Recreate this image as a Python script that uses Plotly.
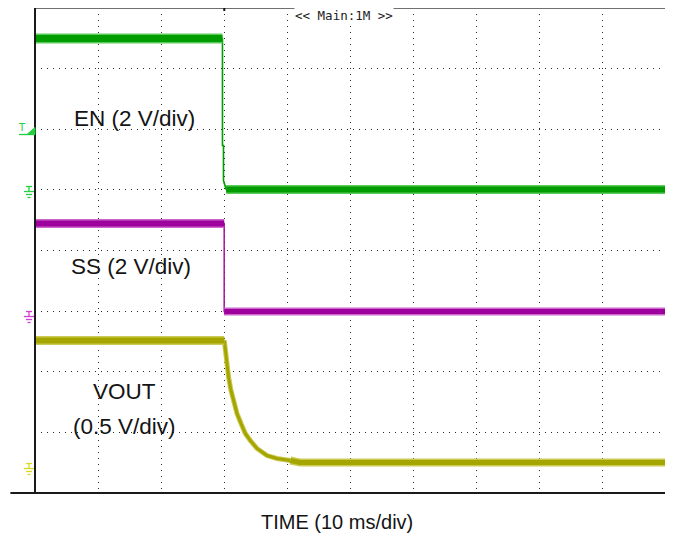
import plotly.graph_objects as go

# ---------------- data (time in ms, trigger at 0; volts per channel) ----------------
en_t = [-30, -0.29, -0.29, -0.13, -0.13, 0.3, 70]
en_v = [5.05, 5.05, 1.52, 1.52, 0.36, 0.066, 0.066]

ss_t = [-30, -0.02, -0.02, 70]
ss_v = [3.07, 3.07, 0.165, 0.165]

vout_t = [-30, 0.0, 0.16, 0.43, 0.68, 1.06, 1.47, 2.01, 2.65, 3.33, 4.12,
          5.18, 6.77, 8.35, 10.46, 12.0, 70]
vout_v = [1.056, 1.056, 0.974, 0.866, 0.753, 0.644, 0.561, 0.454, 0.371, 0.289,
          0.231, 0.165, 0.107, 0.083, 0.066, 0.049, 0.049]

en_trigger_level = 1.88

channel_labels = ["EN (2 V/div)", "SS (2 V/div)", "VOUT", "(0.5 V/div)"]
x_title = "TIME (10 ms/div)"
header_text = "<< Main:1M >>"

# ---------------- styles ----------------
EN_CORE, EN_HALO, EN_MARK = "#009C00", "#5BCB5B", "#22D040"
SS_CORE, SS_HALO, SS_MARK = "#9E009E", "#CB66CB", "#D63CD6"
VO_CORE, VO_HALO, VO_MARK = "#A5A500", "#CACA55", "#D8D820"

fig = go.Figure()


def add_line(t, v, yaxis, core, halo, w_core, w_halo):
    fig.add_trace(go.Scatter(x=t, y=v, yaxis=yaxis, mode="lines",
                             line=dict(color=halo, width=w_halo), hoverinfo="skip",
                             showlegend=False))
    fig.add_trace(go.Scatter(x=t, y=v, yaxis=yaxis, mode="lines",
                             line=dict(color=core, width=w_core), hoverinfo="skip",
                             showlegend=False))


# EN (channel 1)
fig.add_trace(go.Scatter(x=en_t, y=en_v, yaxis="y2", mode="lines",
                         line=dict(color=EN_CORE, width=1.6), showlegend=False,
                         hoverinfo="skip"))
add_line(en_t[:2], en_v[:2], "y2", EN_CORE, EN_HALO, 7, 10)
add_line(en_t[-2:], en_v[-2:], "y2", EN_CORE, EN_HALO, 6, 9)

# SS (channel 2)
fig.add_trace(go.Scatter(x=ss_t, y=ss_v, yaxis="y3", mode="lines",
                         line=dict(color=SS_CORE, width=1.4), showlegend=False,
                         hoverinfo="skip"))
add_line(ss_t[:2], ss_v[:2], "y3", SS_CORE, SS_HALO, 6, 9)
add_line(ss_t[-2:], ss_v[-2:], "y3", SS_CORE, SS_HALO, 5, 8)

# VOUT (channel 3)
add_line(vout_t[1:-2], vout_v[1:-2], "y4", VO_CORE, VO_HALO, 3, 5)
add_line(vout_t[:2], vout_v[:2], "y4", VO_CORE, VO_HALO, 6, 9)
add_line(vout_t[-3:], vout_v[-3:], "y4", VO_CORE, VO_HALO, 5, 8)

# ---------------- axes ----------------
grid = dict(showgrid=True, gridcolor="#2a2a2a", gridwidth=1, griddash="1px,5px",
            zeroline=False, showticklabels=False, ticks="", showline=False)

# the page body adds an 8 px offset, so the figure is 8 px smaller
fig.update_layout(
    width=665, height=530,
    margin=dict(l=26.7, r=7, t=0, b=45),
    paper_bgcolor="white", plot_bgcolor="white",
    xaxis=dict(range=[-30, 70], tick0=-30, dtick=10, **grid),
    yaxis=dict(range=[0, 8], tick0=0, dtick=1, **grid),
    yaxis2=dict(range=[-9.946, 6.054], overlaying="y", visible=False),
    yaxis3=dict(range=[-5.822, 10.178], overlaying="y", visible=False),
    yaxis4=dict(range=[-0.202, 3.798], overlaying="y", visible=False),
    showlegend=False,
)

# ---------------- frame ----------------
shapes = [
    dict(type="line", xref="paper", yref="paper", x0=0, x1=1, y0=1, y1=1,
         line=dict(color="#707070", width=2)),
    dict(type="line", xref="paper", yref="paper", x0=0, x1=0, y0=0, y1=1,
         line=dict(color="#1a1a1a", width=2)),
    dict(type="line", xref="paper", yref="paper", x0=1, x1=1, y0=0, y1=1,
         line=dict(color="#1a1a1a", width=2)),
    dict(type="line", xref="paper", yref="paper", x0=-0.039, x1=1, y0=0, y1=0,
         line=dict(color="#1a1a1a", width=2)),
    # trigger position tick at top
    dict(type="rect", xref="x", xsizemode="pixel", xanchor=0, x0=-1, x1=1,
         yref="paper", ysizemode="pixel", yanchor=1, y0=-3, y1=0,
         fillcolor="#111", line=dict(width=0)),
]


def ground(yref, color):
    segs = [(-9, -3, 5, 5), (-6, -6, 0, 5), (-11, -1, 0, 0),
            (-9, -3, -3, -3), (-7.5, -4.5, -6, -6)]
    for x0, x1, y0, y1 in segs:
        shapes.append(dict(type="line", xref="paper", xsizemode="pixel", xanchor=0,
                           x0=x0, x1=x1, yref=yref, ysizemode="pixel", yanchor=0,
                           y0=y0, y1=y1, line=dict(color=color, width=1.3)))


ground("y2", EN_MARK)
ground("y3", SS_MARK)
ground("y4", VO_MARK)

# trigger level marker for EN
shapes.append(dict(type="line", xref="paper", xsizemode="pixel", xanchor=0,
                   x0=-16, x1=0, yref="y2", ysizemode="pixel",
                   yanchor=en_trigger_level, y0=0, y1=0,
                   line=dict(color=EN_MARK, width=1.3)))
shapes.append(dict(type="path", xref="paper", xsizemode="pixel", xanchor=0,
                   yref="y2", ysizemode="pixel", yanchor=en_trigger_level,
                   path="M-8,0 L0,7 L0,0 Z", fillcolor=EN_MARK,
                   line=dict(color=EN_MARK, width=1)))

fig.update_layout(shapes=shapes)

# ---------------- text ----------------
lab_font = dict(family="Liberation Sans, Arial, sans-serif", size=22.5, color="#141414")
ann = [
    dict(x=-14.3, y=6.18, text=channel_labels[0]),
    dict(x=-14.8, y=3.74, text=channel_labels[1]),
    dict(x=-15.8, y=1.67, text=channel_labels[2]),
    dict(x=-15.8, y=1.10, text=channel_labels[3]),
]
annotations = [dict(xref="x", yref="y", showarrow=False, font=lab_font,
                    xanchor="center", yanchor="middle", **a) for a in ann]
annotations.append(dict(xref="x", yref="paper", x=17.9, y=-0.059, text=x_title,
                        showarrow=False, xanchor="center", yanchor="middle",
                        font=dict(family="Liberation Sans, Arial, sans-serif",
                                  size=20, color="#141414")))
annotations.append(dict(xref="x", yref="y", x=19.0, y=7.87, text=header_text,
                        showarrow=False, xanchor="center", yanchor="middle",
                        bgcolor="white", borderpad=0,
                        font=dict(family="DejaVu Sans Mono, monospace", size=12.5,
                                  color="#222")))
annotations.append(dict(xref="paper", yref="y2", x=0, y=en_trigger_level, text="T",
                        showarrow=False, xanchor="right", yanchor="bottom",
                        xshift=-7, yshift=0,
                        font=dict(family="DejaVu Sans, sans-serif", size=10,
                                  color=EN_MARK)))
fig.update_layout(annotations=annotations)

fig.write_html("out.html")
